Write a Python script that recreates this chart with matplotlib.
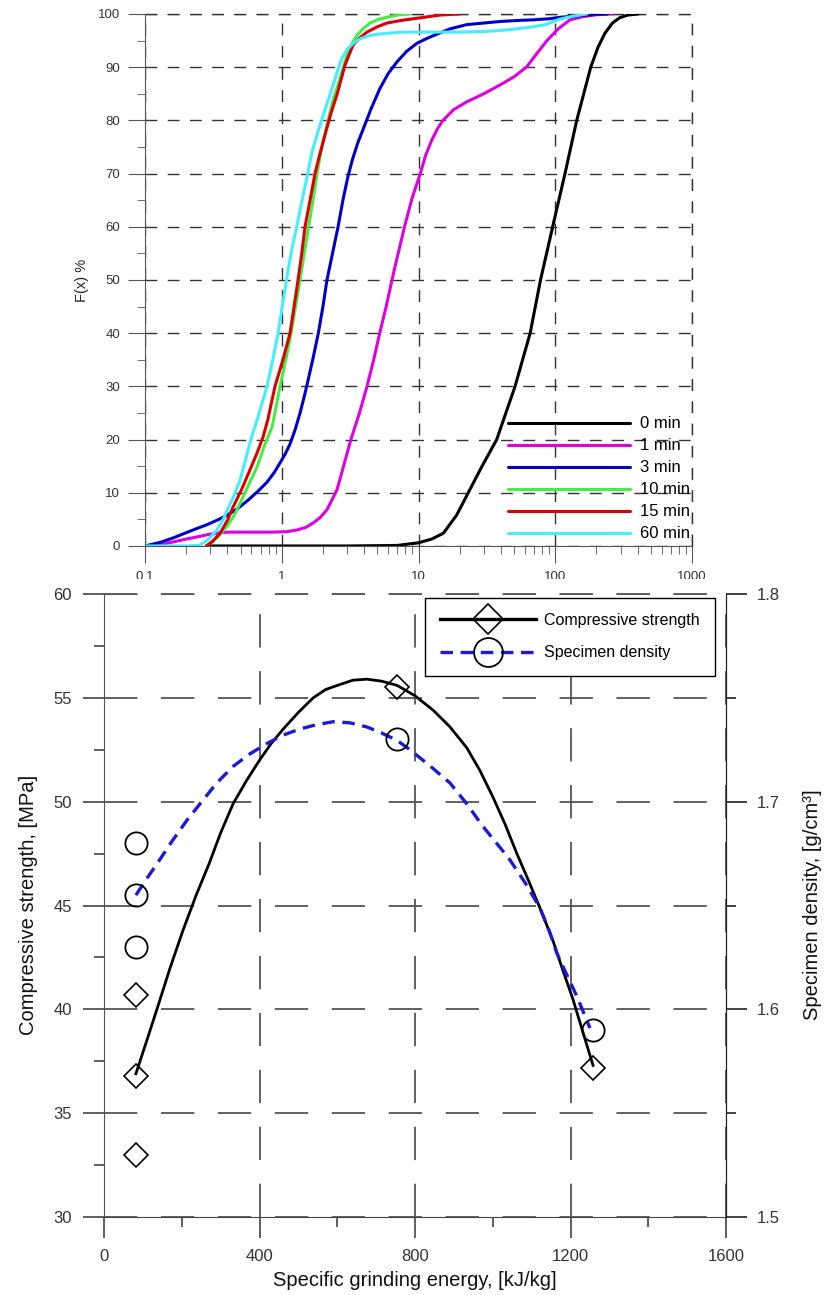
import numpy as np
import matplotlib
matplotlib.use('Agg')
import matplotlib.pyplot as plt
from matplotlib.lines import Line2D
from matplotlib.patches import Rectangle
from matplotlib.ticker import MultipleLocator, FixedLocator, FixedFormatter, NullFormatter, LogLocator

plt.rcParams['font.family'] = ['Liberation Sans', 'DejaVu Sans']
plt.rcParams['lines.scale_dashes'] = False

# --- particle size distribution (top) ---
black_x = [0.3, 3, 7, 10, 12.5, 15.2, 19, 23.1, 29, 37.3, 50.8, 65.5, 78, 95.7, 117.8, 143.5, 181.7,
           205, 231, 262, 296, 340, 404]
black_F = [0, 0, 0.1, 0.6, 1.3, 2.4, 5.8, 10, 14.9, 20, 30, 40, 50, 60, 70, 80, 90,
           93.7, 96.4, 98.3, 99.3, 99.8, 100]

magenta_x = [0.1, 0.13, 0.16, 0.2, 0.24, 0.284, 0.34, 0.40, 0.5, 0.65, 0.86, 1.1, 1.29, 1.5, 1.69, 1.9,
             2.14, 2.53, 2.9, 3.2, 3.7, 4.2, 4.7, 5.2, 5.8, 6.4, 6.8, 7.9, 9.0, 10.3, 11.3, 12.5, 13.8,
             15.1, 18, 22.6, 30, 39.7, 50, 61.5, 73.5, 87, 105, 128, 160, 200, 263]
magenta_F = [0, 0.3, 0.75, 1.3, 1.7, 2.1, 2.4, 2.6, 2.6, 2.6, 2.6, 2.7, 3.0, 3.5, 4.3, 5.3,
             6.8, 10.5, 16, 20, 25, 30, 35, 40, 45, 50, 53, 60, 65.5, 70, 73.5, 76.3, 78.5,
             80, 82, 83.5, 85, 86.7, 88.2, 90, 92.6, 95, 97.2, 98.9, 99.5, 99.85, 100]

blue_x = [0.1, 0.13, 0.16, 0.2, 0.24, 0.284, 0.34, 0.40, 0.48, 0.566, 0.67, 0.78, 0.88, 0.97, 1.06, 1.15,
          1.25, 1.36, 1.45, 1.53, 1.7, 1.85, 2.0, 2.14, 2.35, 2.58, 2.8, 3.05, 3.3, 3.6, 3.93, 4.5, 5.22,
          6.0, 6.96, 8.2, 9.75, 11.5, 13.6, 17, 22.5, 30, 40, 55, 69, 90, 110, 140, 170, 205, 240]
blue_F = [0, 0.7, 1.5, 2.5, 3.3, 4.0, 4.9, 5.8, 7.1, 8.6, 10.3, 12.0, 13.8, 15.6, 17.3, 19.2,
          21.8, 25.0, 27.8, 30.3, 35.5, 40, 45, 50, 55, 60, 65, 69.5, 72.8, 75.8, 78.3, 82.2, 86,
          88.8, 91, 93, 94.5, 95.4, 96.2, 97.2, 98, 98.3, 98.6, 98.8, 98.9, 99.1, 99.4, 99.6, 99.8, 99.95, 100]

green_x = [0.28, 0.31, 0.35, 0.40, 0.45, 0.495, 0.56, 0.66, 0.75, 0.85, 0.89, 0.97, 1.07, 1.17, 1.26, 1.36,
           1.46, 1.57, 1.69, 1.81, 1.93, 2.07, 2.2, 2.4, 2.58, 2.8, 3.0, 3.25, 3.55, 4.0, 4.42, 5.1, 5.89,
           7.0, 8.7]
green_F = [0, 0.8, 2.0, 3.8, 5.8, 8, 11, 14.9, 19, 22.4, 25, 30, 35, 40, 45, 50,
           55, 60, 65, 70, 74, 77.5, 80.5, 84.3, 86.7, 89.8, 92.3, 94.4, 96, 97.4, 98.3, 99, 99.4,
           99.8, 100]

red_x = [0.28, 0.31, 0.354, 0.40, 0.44, 0.51, 0.585, 0.66, 0.73, 0.79, 0.892, 1.02, 1.149, 1.23, 1.315,
         1.40, 1.479, 1.61, 1.75, 1.87, 2.07, 2.3, 2.53, 2.9, 3.32, 3.75, 4.2, 5.0, 5.89, 7.5, 9.75, 14.4, 20]
red_F = [0, 0.8, 2.4, 4.8, 7.3, 10.7, 14.3, 17.5, 20.5, 23.7, 30, 35, 40, 45, 50,
         55, 60, 65, 70, 73, 77.3, 81.5, 84.8, 90.4, 94.2, 95.6, 96.6, 97.6, 98.3, 98.8, 99.2, 99.8, 100]

cyan_x = [0.1, 0.2, 0.25, 0.29, 0.336, 0.37, 0.40, 0.45, 0.495, 0.54, 0.585, 0.62, 0.66, 0.72, 0.78, 0.86,
          0.94, 1.0, 1.06, 1.12, 1.18, 1.31, 1.42, 1.55, 1.66, 1.81, 2.07, 2.33, 2.55, 2.75, 3.0, 3.32, 3.8,
          4.42, 5.5, 7.7, 10, 14.4, 20, 30, 40, 52, 69, 85, 107, 135, 170]
cyan_F = [0, 0, 0.1, 1.2, 3, 4.8, 6.8, 9.6, 12.4, 15.9, 19.4, 21.6, 23.7, 27, 30, 35,
          40, 44.5, 48.5, 52.3, 55.6, 61, 65.5, 70, 74, 77.3, 82, 86, 89.2, 91.7, 93.3, 94.5, 95.4,
          96, 96.3, 96.6, 96.6, 96.6, 96.6, 96.7, 96.9, 97.2, 97.6, 98.0, 99, 99.6, 100]

psd_labels = ['0 min', '1 min', '3 min', '10 min', '15 min', '60 min']
psd_colors = ['black', '#e000e0', '#0000cc', '#44ee44', '#dd0000', '#44eeff']
x_ticks_top = [0.1, 1, 10, 100, 1000]
x_ticklabels_top = ['0.1', '1', '10', '100', '1000']

# --- compressive strength / density vs energy (bottom) ---
strength_E = [82, 82, 82, 754, 1258]
strength_MPa = [40.7, 36.8, 33.0, 55.5, 37.2]
density_E = [82, 82, 82, 754, 1258]
density_g = [1.680, 1.655, 1.630, 1.730, 1.590]

strength_fit_E = [82, 110, 136, 170, 203, 237, 270, 300, 332, 366, 400, 430, 461, 500, 538, 570, 600, 640,
                  676, 715, 754, 800, 847, 890, 933, 967, 1001, 1032, 1062, 1092, 1121, 1155, 1180, 1206,
                  1232, 1258]
strength_fit = [36.9, 38.5, 40.0, 42.0, 43.8, 45.5, 47.0, 48.5, 49.9, 51.0, 52.0, 52.8, 53.5, 54.3, 55.0,
                55.4, 55.6, 55.85, 55.9, 55.8, 55.6, 55.1, 54.4, 53.6, 52.6, 51.5, 50.2, 48.9, 47.5, 46.2,
                44.9, 43.3, 41.9, 40.5, 38.9, 37.3]
density_fit_E = [82, 110, 136, 175, 213, 247, 290, 332, 375, 419, 460, 504, 545, 589, 632, 676, 715, 754,
                 787, 840, 890, 933, 975, 1010, 1044, 1083, 1121, 1145, 1165, 1192, 1217, 1250]
density_fit = [1.655, 1.663, 1.670, 1.681, 1.691, 1.699, 1.709, 1.717, 1.723, 1.728, 1.732, 1.735, 1.737,
               1.7385, 1.738, 1.736, 1.733, 1.7295, 1.725, 1.717, 1.709, 1.699, 1.688, 1.680, 1.672,
               1.661, 1.649, 1.638, 1.627, 1.616, 1.606, 1.591]

fig = plt.figure(figsize=(8.25, 12.95), dpi=100)

# top chart
ax1 = fig.add_axes([0.1758, 0.5784, 0.663, 0.4108])
ax1.set_xscale('log')
curves = [(black_x, black_F), (magenta_x, magenta_F), (blue_x, blue_F),
          (green_x, green_F), (red_x, red_F), (cyan_x, cyan_F)]
for (xs, fs), lab, col in zip(curves, psd_labels, psd_colors):
    ax1.plot(xs, fs, color=col, lw=2.2, label=lab, solid_capstyle='round', solid_joinstyle='round')
ax1.set_xlim(0.1, 1000)
ax1.set_ylim(0, 100)
ax1.xaxis.set_major_locator(FixedLocator(x_ticks_top))
ax1.xaxis.set_major_formatter(FixedFormatter(x_ticklabels_top))
ax1.xaxis.set_minor_locator(LogLocator(base=10, subs=np.arange(2, 10)))
ax1.xaxis.set_minor_formatter(NullFormatter())
ax1.yaxis.set_major_locator(MultipleLocator(10))
ax1.yaxis.set_minor_locator(MultipleLocator(5))
grid_top = dict(color='#333333', linestyle=(0, (8.5, 7.5)), linewidth=1.0)
ax1.grid(True, which='major', **grid_top)
# dashed top / right border, drawn unclipped
ax1.axhline(100, clip_on=False, zorder=1.5, **grid_top)
ax1.axvline(1000, clip_on=False, zorder=1.5, **grid_top)
for s in ['top', 'right']:
    ax1.spines[s].set_visible(False)
for s in ['left', 'bottom']:
    ax1.spines[s].set_color('#555555')
ax1.tick_params(which='major', direction='out', length=12, color='#555555', labelsize=9.5,
                labelcolor='#333333', pad=6)
ax1.tick_params(which='minor', direction='out', length=6, color='#555555')
fig.text(82 / 825, 1 - 280 / 1295, 'F(x) %', rotation=90, ha='center', va='center',
         fontsize=10.5, color='#222222')
ax1.legend(frameon=False, loc='upper left', bbox_to_anchor=(0.6636, 0.2434), handlelength=7.3,
           handletextpad=0.6, labelspacing=0.42, fontsize=12, borderpad=0, borderaxespad=0)

# white cover: bottom chart pasted over the top chart's tick labels
fig.add_artist(Rectangle((0, 0), 1, 1 - 579 / 1295, transform=fig.transFigure,
                         facecolor='white', edgecolor='none', zorder=2))

# bottom chart
ax2 = fig.add_axes([0.1261, 0.0602, 0.7539, 0.4811], zorder=3)
ax3 = ax2.twinx()
ax3.set_zorder(4)
ax3.patch.set_visible(False)

ax2.plot(strength_fit_E, strength_fit, color='black', lw=2.0, solid_joinstyle='round')
ax2.plot(strength_E, strength_MPa, linestyle='none', marker='D', ms=12, mfc='none', mec='black', mew=1.2)
ax3.plot(density_fit_E, density_fit, color='#1a1adb', lw=2.4, dashes=(9, 5.5))
ax3.plot(density_E, density_g, linestyle='none', marker='o', ms=16, mfc='none', mec='black', mew=1.3)

ax2.set_xlim(0, 1600)
ax2.set_ylim(30, 60)
ax3.set_ylim(1.5, 1.8)
ax2.xaxis.set_major_locator(MultipleLocator(400))
ax2.xaxis.set_minor_locator(MultipleLocator(200))
ax2.yaxis.set_major_locator(MultipleLocator(5))
ax2.yaxis.set_minor_locator(MultipleLocator(2.5))
ax3.yaxis.set_major_locator(MultipleLocator(0.1))
ax3.yaxis.set_minor_locator(MultipleLocator(0.05))
ax3.yaxis.set_major_formatter(matplotlib.ticker.FormatStrFormatter('%.1f'))
grid_bot = dict(color='#555555', linestyle=(0, (24, 17)), linewidth=1.3)
ax2.grid(True, which='major', **grid_bot)
ax2.axhline(60, clip_on=False, zorder=1.5, **grid_bot)
for a in (ax2, ax3):
    a.spines['top'].set_visible(False)
ax2.spines['left'].set_color('#555555')
ax2.spines['bottom'].set_color('#444444')
ax3.spines['right'].set_color('#222222')
ax3.spines['left'].set_visible(False)
ax3.spines['bottom'].set_visible(False)
ax2.tick_params(which='major', direction='out', length=15, width=1.2, color='#444444', labelsize=12,
                labelcolor='#333333', pad=8)
ax2.tick_params(which='minor', direction='out', length=7, width=1.2, color='#444444')
ax3.tick_params(which='major', direction='out', length=15, width=1.2, color='#222222', labelsize=12,
                labelcolor='#333333', pad=7)
ax3.tick_params(which='minor', direction='out', length=7, width=1.2, color='#222222')

fig.text(415 / 825, 1 - 1281 / 1295, 'Specific grinding energy, [kJ/kg]', ha='center', va='center',
         fontsize=14.5, color='#111111')
fig.text(28 / 825, 1 - 905 / 1295, 'Compressive strength, [MPa]', rotation=90, ha='center', va='center',
         fontsize=14.5, color='#111111')
fig.text(812 / 825, 1 - 905 / 1295, 'Specimen density, [g/cm³]', rotation=90, ha='center', va='center',
         fontsize=14.5, color='#111111')

handles = [Line2D([], [], color='black', lw=2.4, marker='D', ms=12, mfc='none', mec='black', mew=1.2),
           Line2D([], [], color='#1a1adb', lw=2.4, dashes=(9, 5.5), marker='o', ms=16, mfc='none',
                  mec='black', mew=1.3)]
leg = ax3.legend(handles, ['Compressive strength', 'Specimen density'], loc='upper right',
                 bbox_to_anchor=(0.982, 0.994), numpoints=1, markerscale=1.3, handlelength=6.0,
                 handletextpad=0.5, fontsize=11.5, fancybox=False, framealpha=1, borderpad=0.95,
                 labelspacing=1.1, borderaxespad=0)
leg.get_frame().set_edgecolor('black')
leg.get_frame().set_linewidth(1.0)

fig.savefig('out.png', dpi=100)
